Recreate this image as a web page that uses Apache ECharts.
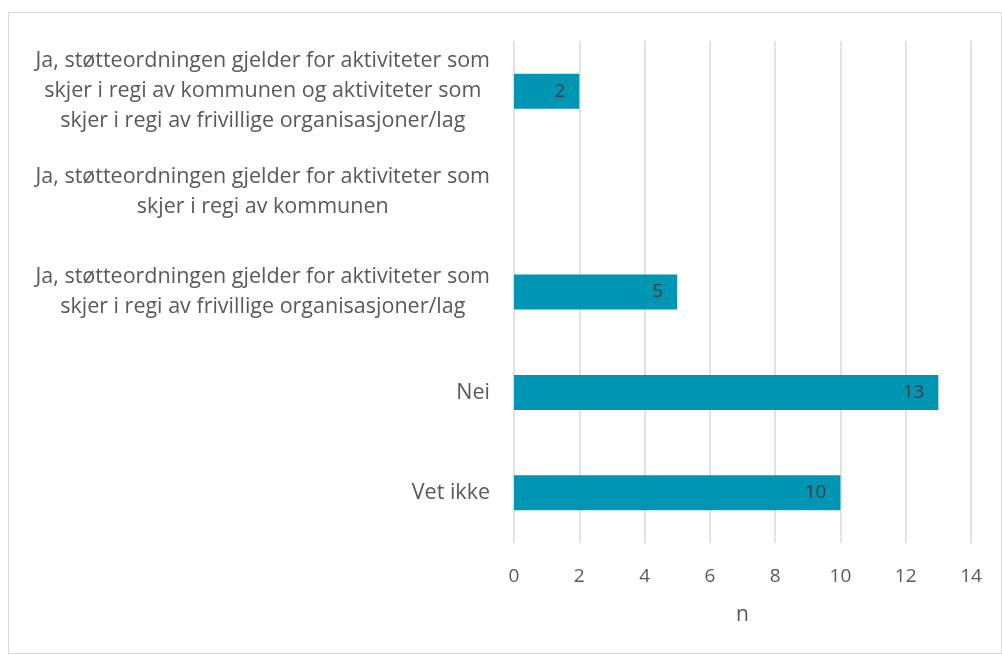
<!DOCTYPE html>
<html>
<head>
<meta charset="UTF-8">
<script src="https://cdn.jsdelivr.net/npm/echarts@6/dist/echarts.min.js"></script>
<style>
  body { margin: 0; padding: 0; background: #fff; }
  #frame {
    position: absolute; left: 8px; top: 12px; width: 994px; height: 642px;
    border: 1px solid #d9d9d9; box-sizing: border-box;
  }
  #chart { position: absolute; left: 0; top: 0; width: 1002px; height: 655px; }
</style>
</head>
<body>
<div id="frame"></div>
<div id="chart"></div>
<script>
// kategorier (nederst forst, slik y-aksen tegnes)
var categories = [
  'Vet ikke',
  'Nei',
  'Ja, støtteordningen gjelder for aktiviteter som\nskjer i regi av frivillige organisasjoner/lag',
  'Ja, støtteordningen gjelder for aktiviteter som\nskjer i regi av kommunen',
  'Ja, støtteordningen gjelder for aktiviteter som\nskjer i regi av kommunen og aktiviteter som\nskjer i regi av frivillige organisasjoner/lag'
];
var values = [10, 13, 5, null, 2];
var xTicks = [0, 2, 4, 6, 8, 10, 12, 14];

var fontFam = '"Open Sans", "Noto Sans", sans-serif';
var chart = echarts.init(document.getElementById('chart'));
chart.setOption({
  animation: false,
  grid: { left: 514, right: 31, top: 41, bottom: 112, containLabel: false },
  xAxis: {
    type: 'value',
    min: xTicks[0],
    max: xTicks[xTicks.length - 1],
    interval: 2,
    name: 'n',
    nameLocation: 'middle',
    nameGap: 62,
    nameTextStyle: { fontFamily: fontFam, fontSize: 21, color: '#595959' },
    axisLine: { show: false },
    axisTick: { show: false },
    axisLabel: { fontFamily: fontFam, fontSize: 19, color: '#595959', margin: 24 },
    splitLine: { show: true, lineStyle: { color: '#d9d9d9', width: 1.5 } }
  },
  yAxis: {
    type: 'category',
    data: categories,
    axisLine: { show: false },
    axisTick: { show: false },
    axisLabel: {
      align: 'right', margin: 24,
      formatter: function (v) {
        return v.split('\n').map(function (l) { return '{c|' + l + '}'; }).join('\n');
      },
      rich: {
        c: {
          fontFamily: fontFam, fontSize: 21.5, color: '#595959',
          align: 'center', lineHeight: 30
        }
      }
    }
  },
  series: [{
    type: 'bar',
    data: values,
    barWidth: 35,
    itemStyle: { color: '#0095B2' },
    label: {
      show: true, position: 'insideRight', distance: 14,
      fontFamily: fontFam, fontSize: 19, color: '#404040'
    }
  }]
});
</script>
</body>
</html>
